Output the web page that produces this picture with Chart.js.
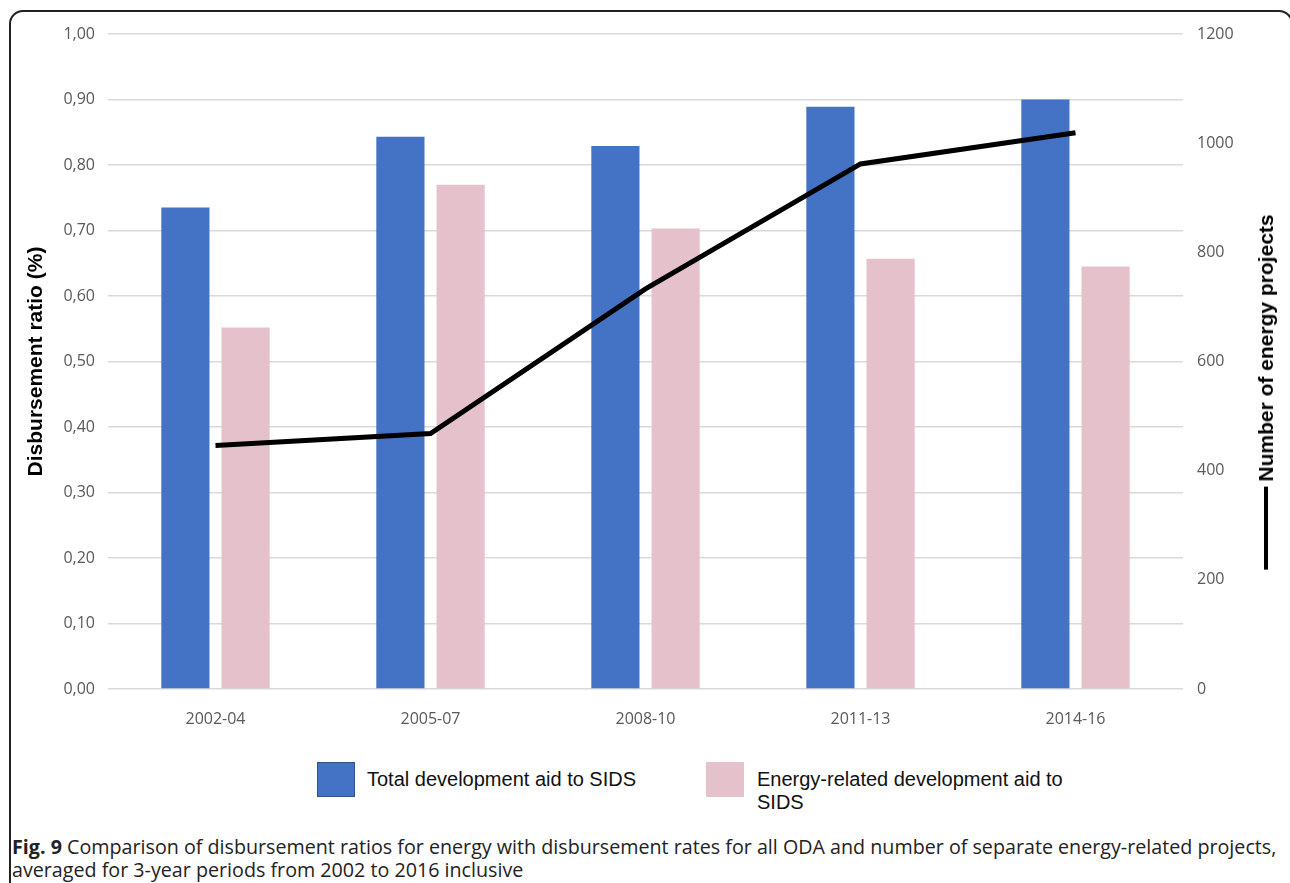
<!DOCTYPE html>
<html>
<head>
<meta charset="utf-8">
<script src="https://cdn.jsdelivr.net/npm/chart.js"></script>
<style>
  body { margin: 0; background: #fff; width: 1290px; height: 883px; overflow: hidden; position: relative; font-family: "Liberation Sans", Arial, sans-serif; }
  #frame { position: absolute; left: 9px; top: 10px; width: 1284px; height: 900px; box-sizing: border-box; border: 2px solid #222; border-radius: 14px; }
  #wrap { position: absolute; left: 0; top: 0; width: 1290px; height: 730px; }
  .leg { position: absolute; font-size: 20px; color: #111; line-height: 23px; }
  .leg .box { position: absolute; width: 38px; height: 35px; box-sizing: border-box; }
  .leg .txt { position: absolute; white-space: nowrap; }
  #rtitle { position: absolute; left: 1266px; top: 392px; transform: translate(-50%, -50%) rotate(-90deg); white-space: nowrap; font: bold 21px "Liberation Sans", Arial, sans-serif; display: flex; align-items: center; }
  #rtitle .ln { display: inline-block; width: 83px; height: 4px; background: #000; margin-right: 5px; }
  #caption { position: absolute; left: 12px; top: 835px; font-family: "Open Sans", sans-serif; font-size: 19.7px; line-height: 23px; color: #222; white-space: nowrap; }
</style>
</head>
<body>
<div id="frame"></div>
<div id="wrap"><canvas id="chart"></canvas></div>
<div id="legend"></div>
<div id="rtitle"><span class="ln"></span><span>Number of energy projects</span></div>
<div id="caption"><b>Fig. 9</b> Comparison of disbursement ratios for energy with disbursement rates for all ODA and number of separate energy-related projects,<br>averaged for 3-year periods from 2002 to 2016 inclusive</div>
<script>
// Данные
const periods = ['2002-04', '2005-07', '2008-10', '2011-13', '2014-16'];
const totalAid = [0.735, 0.843, 0.829, 0.889, 0.900];
const energyAid = [0.552, 0.770, 0.703, 0.657, 0.645];
const energyProjects = [446, 468, 733, 962, 1019];
const leftTicks = [0, 0.1, 0.2, 0.3, 0.4, 0.5, 0.6, 0.7, 0.8, 0.9, 1.0];
const rightTicks = [0, 200, 400, 600, 800, 1000, 1200];

const legendItems = [
    { label: 'Total development aid to SIDS', color: '#4472C4', border: '#2F528F', x: 317, y: 762, textX: 367, textY: 768 },
    { label: 'Energy-related development aid to<br>SIDS', color: '#E5C1CB', border: '#E5C1CB', x: 706, y: 762, textX: 757, textY: 768 }
];

// Легенда
const legendEl = document.getElementById('legend');
legendItems.forEach(item => {
    const d = document.createElement('div');
    d.className = 'leg';
    d.innerHTML = `<div class="box" style="left:${item.x}px;top:${item.y}px;background:${item.color};border:1.5px solid ${item.border}"></div>` +
                  `<div class="txt" style="left:${item.textX}px;top:${item.textY}px">${item.label}</div>`;
    legendEl.appendChild(d);
});

const tickFont = { family: '"Open Sans", sans-serif', size: 16 };

const ctx = document.getElementById('chart').getContext('2d');
new Chart(ctx, {
    data: {
        labels: periods,
        datasets: [
            {
                type: 'line',
                label: 'Number of energy projects',
                data: energyProjects,
                yAxisID: 'y1',
                borderColor: '#000',
                borderWidth: 5,
                pointRadius: 0,
                tension: 0,
                order: 0
            },
            {
                type: 'bar',
                label: 'Total development aid to SIDS',
                data: totalAid,
                backgroundColor: '#4472C4',
                yAxisID: 'y',
                categoryPercentage: 0.56,
                barPercentage: 0.8,
                order: 1
            },
            {
                type: 'bar',
                label: 'Energy-related development aid to SIDS',
                data: energyAid,
                backgroundColor: '#E5C1CB',
                yAxisID: 'y',
                categoryPercentage: 0.56,
                barPercentage: 0.8,
                order: 1
            }
        ]
    },
    options: {
        responsive: true,
        maintainAspectRatio: false,
        animation: false,
        layout: { padding: { top: 34, left: 0, right: 0, bottom: 0 } },
        plugins: { legend: { display: false }, tooltip: { enabled: false } },
        scales: {
            x: {
                grid: { display: false },
                border: { display: false },
                ticks: { color: '#595959', font: { family: '"Open Sans", sans-serif', size: 16 }, padding: 13 },
                afterFit: s => { s.height = 41; }
            },
            y: {
                position: 'left',
                min: 0, max: 1,
                afterBuildTicks: s => { s.ticks = leftTicks.map(v => ({ value: v })); },
                ticks: { color: '#595959', font: tickFont, padding: 13, callback: v => v.toFixed(2).replace('.', ',') },
                grid: { color: '#D9D9D9', lineWidth: 1.5, drawTicks: false },
                border: { display: false },
                title: { display: true, text: 'Disbursement ratio (%)', color: '#000', font: { family: '"Liberation Sans", Arial, sans-serif', size: 21, weight: 'bold' }, padding: { top: 24, bottom: 0 } },
                afterFit: s => { s.width = 108; }
            },
            y1: {
                position: 'right',
                min: 0, max: 1200,
                afterBuildTicks: s => { s.ticks = rightTicks.map(v => ({ value: v })); },
                ticks: { color: '#595959', font: tickFont, padding: 14, callback: v => String(v) },
                grid: { display: false, drawTicks: false },
                border: { display: false },
                afterFit: s => { s.width = 107; }
            }
        }
    }
});
</script>
</body>
</html>
